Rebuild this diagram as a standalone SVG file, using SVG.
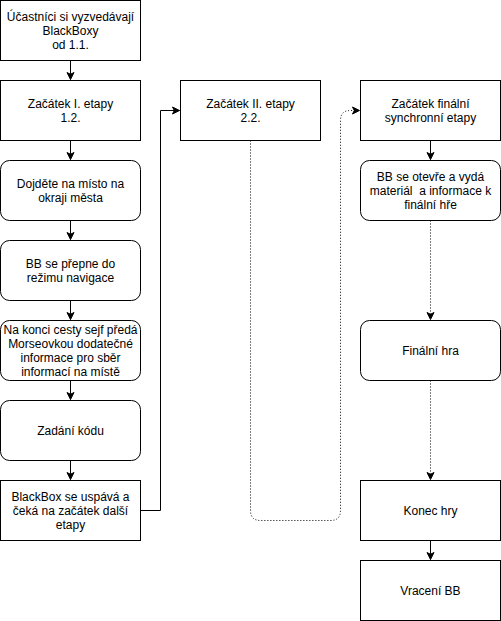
<svg xmlns="http://www.w3.org/2000/svg" width="501" height="621" viewBox="0 0 501 621">
<style>
.box{fill:#fff;stroke:#000;stroke-width:1}
.t{font-family:"Liberation Sans",Arial,sans-serif;font-size:12px;fill:#000;text-anchor:middle}
.c{fill:none;stroke:#000;stroke-width:1}
.d{fill:none;stroke:#000;stroke-width:1;stroke-dasharray:1 2}
</style>
<defs>
<marker id="a" markerUnits="userSpaceOnUse" markerWidth="10" markerHeight="10" viewBox="0 0 10 10" refX="8" refY="5" orient="auto">
<path d="M1,1.5 L8,5 L1,8.5 L2.8,5 Z" fill="#000" stroke="#000" stroke-width="1"/>
</marker>
</defs>
<rect width="501" height="621" fill="#fff"/>
<g transform="translate(0.5,0.5)">
<g id="connectors">
<path class="c" d="M70,60 V79" marker-end="url(#a)"/>
<path class="c" d="M70,140 V159" marker-end="url(#a)"/>
<path class="c" d="M70,220 V239" marker-end="url(#a)"/>
<path class="c" d="M70,300 V319" marker-end="url(#a)"/>
<path class="c" d="M70,380 V399" marker-end="url(#a)"/>
<path class="c" d="M70,460 V479" marker-end="url(#a)"/>
<path class="c" d="M140,510 H160 V110 H179" marker-end="url(#a)"/>
<path class="d" d="M250,140 V510 Q250,520 260,520 H330 Q340,520 340,510 V120 Q340,110 350,110 H359" marker-end="url(#a)"/>
<path class="c" d="M430,140 V159" marker-end="url(#a)"/>
<path class="d" d="M430,220 V319" marker-end="url(#a)"/>
<path class="d" d="M430,380 V479" marker-end="url(#a)"/>
<path class="c" d="M430,540 V559" marker-end="url(#a)"/>
</g>
<g id="n1"><rect class="box" x="0" y="0" width="140" height="60"/>
<text class="t" x="70" y="20">Účastníci si vyzvedávají</text><text class="t" x="70" y="34">BlackBoxy</text><text class="t" x="70" y="48">od 1.1.</text></g>
<g id="n2"><rect class="box" x="0" y="80" width="140" height="60"/>
<text class="t" x="70" y="107">Začátek I. etapy</text><text class="t" x="70" y="121">1.2.</text></g>
<g id="n3"><rect class="box" x="0" y="160" width="140" height="60" rx="9"/>
<text class="t" x="70" y="187">Dojděte na místo na</text><text class="t" x="70" y="201">okraji města</text></g>
<g id="n4"><rect class="box" x="0" y="240" width="140" height="60" rx="9"/>
<text class="t" x="70" y="267">BB se přepne do</text><text class="t" x="70" y="281">režimu navigace</text></g>
<g id="n5"><rect class="box" x="0" y="320" width="140" height="60" rx="9"/>
<text class="t" x="70" y="333">Na konci cesty sejf předá</text><text class="t" x="70" y="347">Morseovkou dodatečné</text><text class="t" x="70" y="361">informace pro sběr</text><text class="t" x="70" y="375">informací na místě</text></g>
<g id="n6"><rect class="box" x="0" y="400" width="140" height="60" rx="9"/>
<text class="t" x="70" y="434">Zadání kódu</text></g>
<g id="n7"><rect class="box" x="0" y="480" width="140" height="60"/>
<text class="t" x="70" y="500">BlackBox se uspává a</text><text class="t" x="70" y="514">čeká na začátek další</text><text class="t" x="70" y="528">etapy</text></g>
<g id="n8"><rect class="box" x="180" y="80" width="140" height="60"/>
<text class="t" x="250" y="107">Začátek II. etapy</text><text class="t" x="250" y="121">2.2.</text></g>
<g id="n9"><rect class="box" x="360" y="80" width="140" height="60"/>
<text class="t" x="430" y="107">Začátek finální</text><text class="t" x="430" y="121">synchronní etapy</text></g>
<g id="n10"><rect class="box" x="360" y="160" width="140" height="60" rx="9"/>
<text class="t" x="430" y="180">BB se otevře a vydá</text><text class="t" x="430" y="194" style="white-space:pre" xml:space="preserve">materiál  a informace k</text><text class="t" x="430" y="208">finální hře</text></g>
<g id="n11"><rect class="box" x="360" y="320" width="140" height="60" rx="9"/>
<text class="t" x="430" y="354">Finální hra</text></g>
<g id="n12"><rect class="box" x="360" y="480" width="140" height="60"/>
<text class="t" x="430" y="514">Konec hry</text></g>
<g id="n13"><rect class="box" x="360" y="560" width="140" height="60"/>
<text class="t" x="430" y="594">Vracení BB</text></g>
</g>
</svg>
